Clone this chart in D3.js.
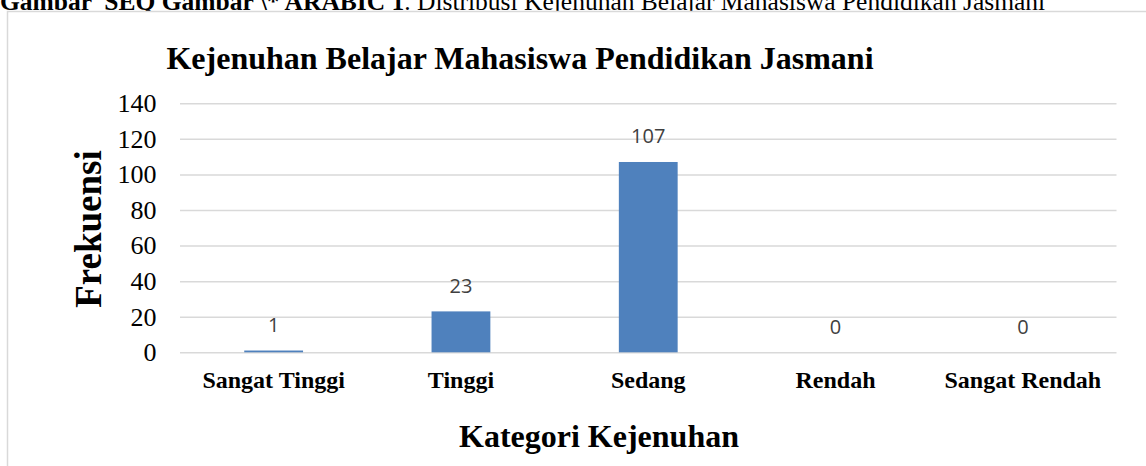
<!DOCTYPE html>
<html>
<head>
<meta charset="utf-8">
<script src="https://cdn.jsdelivr.net/npm/d3@7"></script>
<style>
  body { margin: 0; background: white; }
  svg { display: block; }
</style>
</head>
<body>
<svg id="chart" width="1146" height="466"></svg>
<script>
// chart data
const categories = ['Sangat Tinggi', 'Tinggi', 'Sedang', 'Rendah', 'Sangat Rendah'];
const frekuensi = [1, 23, 107, 0, 0];
const yTicks = [0, 20, 40, 60, 80, 100, 120, 140];

const captionBold = 'Gambar  SEQ Gambar \\* ARABIC 1';
const captionText = '. Distribusi Kejenuhan Belajar Mahasiswa Pendidikan Jasmani';
const chartTitle = 'Kejenuhan Belajar Mahasiswa Pendidikan Jasmani';
const xTitle = 'Kategori Kejenuhan';
const yTitle = 'Frekuensi';

/** Class implementing the bar chart view. */
class BarChart {
  constructor() {
    this.svg = d3.select('#chart');
    this.serif = '"Liberation Serif", "Times New Roman", serif';
    this.x = d3.scaleBand()
      .domain(categories)
      .range([180, 1116.5])
      .paddingInner(0.686)
      .paddingOuter(0.343)
    ;
    this.y = d3.scaleLinear().domain([0, 140]).range([352.3, 103.3]);
  }

  // caption and outer frame
  drawFrame() {
    let cap = this.svg.append('text')
      .attr('x', 0)
      .attr('y', 9.5)
      .style('font-family', this.serif)
      .style('font-size', '25.5px')
      .style('white-space', 'pre')
    ;
    cap.append('tspan').style('font-weight', 'bold').text(captionBold);
    cap.append('tspan').text(captionText);

    this.svg.append('rect')
      .attr('x', 7.5)
      .attr('y', 11.5)
      .attr('width', 1200)
      .attr('height', 500)
      .attr('fill', 'white')
      .style('stroke', '#d9d9d9')
      .style('stroke-width', 1.5)
    ;
  }

  // gridlines and axis labels
  drawAxes() {
    let grid = d3.axisLeft(this.y)
      .tickValues(yTicks)
      .tickSize(-(1116.5 - 180))
      .tickFormat('')
    ;
    let g = this.svg.append('g')
      .attr('transform', 'translate(180,0)')
      .call(grid)
    ;
    g.select('.domain').remove();
    g.selectAll('line').style('stroke', '#d9d9d9').style('stroke-width', 1.5);

    let yAx = this.svg.append('g')
      .attr('transform', 'translate(156.5,0)')
      .call(d3.axisLeft(this.y).tickValues(yTicks).tickSize(0).tickPadding(0))
    ;
    yAx.select('.domain').remove();
    yAx.selectAll('text')
      .style('font-family', this.serif)
      .style('font-size', '26px')
      .attr('fill', 'black')
    ;

    let xAx = this.svg.append('g')
      .attr('transform', 'translate(0,388)')
      .call(d3.axisBottom(this.x).tickSize(0).tickPadding(0))
    ;
    xAx.select('.domain').remove();
    xAx.selectAll('text')
      .attr('dy', 0)
      .style('font-family', this.serif)
      .style('font-size', '24px')
      .style('font-weight', 'bold')
      .attr('fill', 'black')
    ;
  }

  // titles
  drawTitles() {
    this.svg.append('text')
      .attr('x', 520)
      .attr('y', 69)
      .attr('text-anchor', 'middle')
      .style('font-family', this.serif)
      .style('font-size', '32px')
      .style('font-weight', 'bold')
      .text(chartTitle)
    ;
    this.svg.append('text')
      .attr('x', 599)
      .attr('y', 447)
      .attr('text-anchor', 'middle')
      .style('font-family', this.serif)
      .style('font-size', '32px')
      .style('font-weight', 'bold')
      .text(xTitle)
    ;
    this.svg.append('text')
      .attr('transform', 'translate(101,229) rotate(-90)')
      .attr('text-anchor', 'middle')
      .style('font-family', this.serif)
      .style('font-size', '37px')
      .style('font-weight', 'bold')
      .text(yTitle)
    ;
  }

  // bars and data labels
  drawBars() {
    let data = categories.map((c, i) => ({cat: c, val: frekuensi[i]}));
    this.svg.append('g').selectAll('rect')
      .data(data)
      .enter()
      .append('rect')
      .attr('x', d => this.x(d.cat))
      .attr('y', d => this.y(d.val))
      .attr('width', this.x.bandwidth())
      .attr('height', d => this.y(0) - this.y(d.val))
      .attr('fill', '#4f81bd')
    ;
    this.svg.append('g').selectAll('text')
      .data(data)
      .enter()
      .append('text')
      .attr('x', d => this.x(d.cat) + this.x.bandwidth() / 2)
      .attr('y', d => this.y(d.val) - 18.5)
      .attr('text-anchor', 'middle')
      .style('font-family', '"Open Sans", sans-serif')
      .style('font-size', '20px')
      .attr('fill', '#404040')
      .text(d => d.val)
    ;
  }
}

let chart = new BarChart();
chart.drawFrame();
chart.drawAxes();
chart.drawTitles();
chart.drawBars();
</script>
</body>
</html>
